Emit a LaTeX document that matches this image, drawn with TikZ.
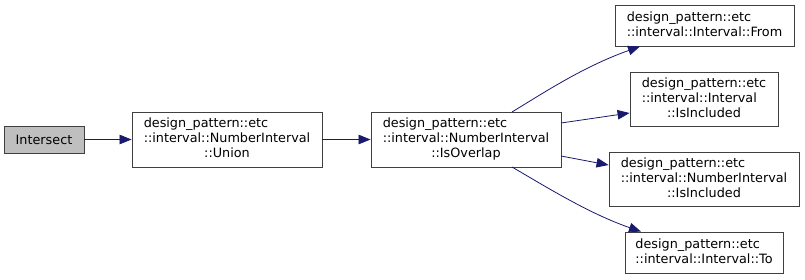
\documentclass[tikz,border=0pt]{standalone}
\usepackage{fontspec}
\setmainfont{DejaVu Sans}
\usetikzlibrary{arrows.meta}
\definecolor{edgeblue}{HTML}{191970}
\definecolor{boxline}{HTML}{404040}
\definecolor{rootfill}{HTML}{BFBFBF}
% qualified name: leading lines flush left, last line centred
\newcommand{\qname}[2]{\begin{tabular}{@{}l@{}}#1\\\multicolumn{1}{@{}c@{}}{#2}\end{tabular}}
\begin{document}
\begin{tikzpicture}[x=1pt,y=-1pt,
  fn/.style={draw=boxline,line width=0.9pt,fill=white,inner sep=0pt,
    font=\fontsize{12.8}{15}\selectfont,anchor=center},
  call/.style={draw=edgeblue,line width=0.8pt,-{Triangle[length=12pt,width=9.5pt]}}]
\useasboundingbox (0,0) rectangle (805,279);
% functions
\node[fn,fill=rootfill,minimum width=80pt,minimum height=27pt] (isect) at (44,139.5) {Intersect};
\node[fn,minimum width=190pt,minimum height=55pt] (union) at (227,139.5)
  {\qname{design\_pattern::etc\\::interval::NumberInterval}{::Union}};
\node[fn,minimum width=190pt,minimum height=55pt] (overlap) at (466,139.5)
  {\qname{design\_pattern::etc\\::interval::NumberInterval}{::IsOverlap}};
\node[fn,minimum width=179pt,minimum height=41pt] (from) at (704.5,25.5)
  {\qname{design\_pattern::etc}{::interval::Interval::From}};
\node[fn,minimum width=148pt,minimum height=54pt] (ivinc) at (704,99)
  {\qname{design\_pattern::etc\\::interval::Interval}{::IsIncluded}};
\node[fn,minimum width=190pt,minimum height=54pt] (nivinc) at (704,179)
  {\qname{design\_pattern::etc\\::interval::NumberInterval}{::IsIncluded}};
\node[fn,minimum width=158pt,minimum height=41pt] (to) at (704,252.5)
  {\qname{design\_pattern::etc}{::interval::Interval::To}};
% calls
\draw[call] (isect.east) -- (union.west);
\draw[call] (union.east) -- (overlap.west);
\draw[call] (512,112) .. controls (548,90) and (585,66) .. (from.south -| 640,0);
\draw[call] (561,123) -- (ivinc.west |- 0,113);
\draw[call] (561,156) -- (nivinc.west |- 0,165);
\draw[call] (512,167) .. controls (548,188) and (590,214) .. (to.north -| 641,0);
\end{tikzpicture}
\end{document}
